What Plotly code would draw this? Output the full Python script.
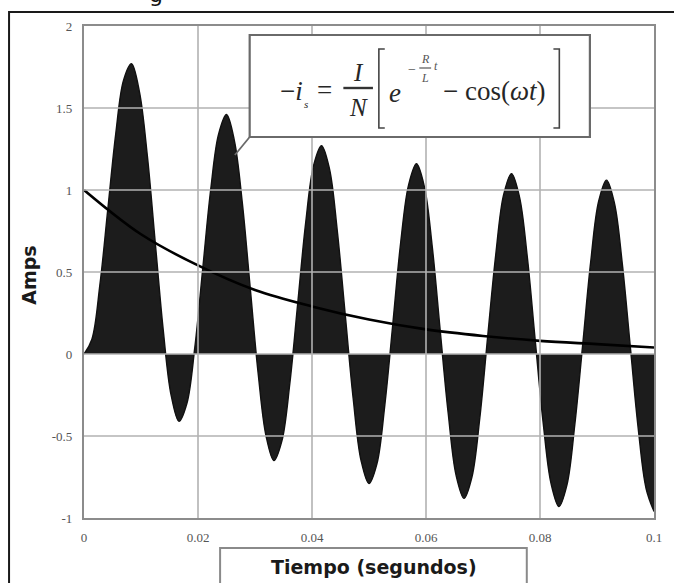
import plotly.graph_objects as go

# ---------------- data ----------------
time_s = [0.00000, 0.00139, 0.00278, 0.00417, 0.00556, 0.00694, 0.00833, 0.00972,
          0.01111, 0.01250, 0.01389, 0.01528, 0.01667, 0.01806, 0.01944, 0.02083,
          0.02222, 0.02361, 0.02500, 0.02639, 0.02778, 0.02917, 0.03056, 0.03194,
          0.03333, 0.03472, 0.03611, 0.03750, 0.03889, 0.04028, 0.04167, 0.04306,
          0.04444, 0.04583, 0.04722, 0.04861, 0.05000, 0.05139, 0.05278, 0.05417,
          0.05556, 0.05694, 0.05833, 0.05972, 0.06111, 0.06250, 0.06389, 0.06528,
          0.06667, 0.06806, 0.06944, 0.07083, 0.07222, 0.07361, 0.07500, 0.07639,
          0.07778, 0.07917, 0.08056, 0.08194, 0.08333, 0.08472, 0.08611, 0.08750,
          0.08889, 0.09028, 0.09167, 0.09306, 0.09444, 0.09583, 0.09722, 0.09861,
          0.10000]
current_amps = [0.00, 0.09, 0.42, 0.88, 1.34, 1.67, 1.77, 1.60, 1.21, 0.68, 0.15, -0.25,
                -0.41, -0.30, 0.04, 0.52, 1.00, 1.34, 1.46, 1.30, 0.92, 0.40, -0.12, -0.50,
                -0.65, -0.53, -0.18, 0.31, 0.80, 1.15, 1.27, 1.13, 0.75, 0.24, -0.27, -0.65,
                -0.79, -0.67, -0.31, 0.18, 0.68, 1.03, 1.16, 1.02, 0.65, 0.14, -0.36, -0.74,
                -0.88, -0.75, -0.39, 0.11, 0.60, 0.97, 1.10, 0.96, 0.59, 0.08, -0.42, -0.79,
                -0.93, -0.80, -0.43, 0.06, 0.56, 0.93, 1.06, 0.92, 0.55, 0.05, -0.45, -0.82,
                -0.96]

decay_time_s = [0.00, 0.01, 0.02, 0.03, 0.04, 0.05, 0.06, 0.07, 0.08, 0.09, 0.10]
decay_amps = [1.00, 0.73, 0.54, 0.39, 0.29, 0.21, 0.15, 0.11, 0.08, 0.06, 0.04]

x_tickvals = [0, 0.02, 0.04, 0.06, 0.08, 0.1]
x_ticktext = ["0", "0.02", "0.04", "0.06", "0.08", "0.1"]
y_tickvals = [-1, -0.5, 0, 0.5, 1, 1.5, 2]
y_ticktext = ["-1", "-0.5", "0", "0.5", "1", "1.5", "2"]

x_label = "Tiempo (segundos)"
y_label = "Amps"

# ---------------- layout helpers ----------------
W, H = 674, 583
L, R, T, B = 84, 662, 26, 518


def px(x):
    return (x - L) / (R - L)


def py(y):
    return (B - y) / (B - T)


fig = go.Figure()

fig.add_trace(go.Scatter(
    x=time_s, y=current_amps, mode="lines", line=dict(color="#111111", width=1.4, shape="spline"),
    fill="tozeroy", fillcolor="#1c1c1c", hoverinfo="skip", showlegend=False))

fig.add_trace(go.Scatter(
    x=decay_time_s, y=decay_amps, mode="lines", line=dict(color="#000000", width=2.6, shape="spline"),
    hoverinfo="skip", showlegend=False))

shapes = []
grid_col = "#b2b2b2"
for xv in x_tickvals[1:-1]:
    shapes.append(dict(type="line", xref="x", yref="paper", x0=xv, x1=xv, y0=0, y1=1,
                       line=dict(color=grid_col, width=1.6), layer="above"))
for yv in y_tickvals[1:-1]:
    shapes.append(dict(type="line", xref="paper", yref="y", x0=0, x1=1, y0=yv, y1=yv,
                       line=dict(color=grid_col, width=1.6), layer="above"))

# outer frame (top and left)
shapes.append(dict(type="path", xref="paper", yref="paper",
                   path=f"M {px(8)},{py(600)} L {px(8)},{py(12)} L {px(700)},{py(12)}",
                   line=dict(color="#1a1a1a", width=2), layer="above"))

# formula box and leader line
shapes.append(dict(type="rect", xref="paper", yref="paper", x0=px(252), x1=px(597), y0=py(137), y1=py(35),
                   line=dict(color="#6a6a6a", width=2.2), fillcolor="white", layer="above"))
shapes.append(dict(type="line", xref="paper", yref="paper", x0=px(252), x1=px(237), y0=py(137), y1=py(155),
                   line=dict(color="#6a6a6a", width=1.8), layer="above"))
# fraction bar I/N
shapes.append(dict(type="line", xref="paper", yref="paper", x0=px(347), x1=px(377), y0=py(88), y1=py(88),
                   line=dict(color="#333333", width=2.4), layer="above"))
# small fraction bar R/L
shapes.append(dict(type="line", xref="paper", yref="paper", x0=px(424), x1=px(436), y0=py(68), y1=py(68),
                   line=dict(color="#555555", width=1.2), layer="above"))
# brackets
shapes.append(dict(type="path", xref="paper", yref="paper",
                   path=f"M {px(389)},{py(49)} L {px(383)},{py(49)} L {px(383)},{py(128)} L {px(389)},{py(128)}",
                   line=dict(color="#444444", width=1.6), layer="above"))
shapes.append(dict(type="path", xref="paper", yref="paper",
                   path=f"M {px(560)},{py(49)} L {px(566)},{py(49)} L {px(566)},{py(128)} L {px(560)},{py(128)}",
                   line=dict(color="#444444", width=1.6), layer="above"))

# x-label box
shapes.append(dict(type="rect", xref="paper", yref="paper", x0=px(222), x1=px(533), y0=py(600), y1=py(548),
                   line=dict(color="#8a8a8a", width=2), fillcolor="white", layer="above"))

serif = "Liberation Serif"
fc = "#262626"
ann = []


def txt(text, x, y, size, xanchor="center", color=fc, family=serif):
    ann.append(dict(text=text, xref="paper", yref="paper", x=px(x), y=py(y), xanchor=xanchor,
                    yanchor="middle", showarrow=False, font=dict(family=family, size=size, color=color)))


txt("\u2212<i>i</i>", 294, 91, 27)
txt("<i>s</i>", 309, 104, 11)
txt("=", 328, 90, 27)
txt("<i>I</i>", 362, 72, 25)
txt("<i>N</i>", 362, 108, 25)
txt("<i>e</i>", 399, 93, 27)
txt("\u2212", 417, 69, 14, color="#555555")
txt("<i>R</i>", 430, 59, 12, color="#555555")
txt("<i>L</i>", 430, 78, 12, color="#555555")
txt("<i>t</i>", 441, 66, 12, color="#555555")
txt("\u2212 cos(<i>\u03c9t</i>)", 446, 91, 27, xanchor="left")

txt("<b>" + x_label + "</b>", 378, 567, 19, color="#1a1a1a", family="DejaVu Sans")
ann.append(dict(text="<b>" + y_label + "</b>", xref="paper", yref="paper", x=px(28), y=py(275),
                xanchor="center", yanchor="middle", textangle=-90, showarrow=False,
                font=dict(family="DejaVu Sans", size=19, color="#1a1a1a")))
# cut-off title fragment at the very top
txt("g", 157, -6, 22, color="#111111", family="DejaVu Sans")

fig.update_layout(
    width=W, height=H,
    margin=dict(l=L, r=W - R, t=T, b=H - B, pad=0),
    paper_bgcolor="white", plot_bgcolor="white",
    shapes=shapes, annotations=ann, showlegend=False,
    xaxis=dict(range=[0, 0.1], tickvals=x_tickvals, ticktext=x_ticktext, showgrid=False, zeroline=False,
               showline=True, mirror=True, linecolor="#8c8c8c", linewidth=2.2, ticks="",
               ticklabelstandoff=6, tickfont=dict(family=serif, size=13, color="#555555")),
    yaxis=dict(range=[-1, 2], tickvals=y_tickvals, ticktext=y_ticktext, showgrid=False, zeroline=False,
               showline=True, mirror=True, linecolor="#8c8c8c", linewidth=2.2, ticks="",
               ticklabelstandoff=7, tickfont=dict(family=serif, size=13, color="#555555")),
)

fig.write_html("out.html", config={"displayModeBar": False},
               post_script="document.body.style.margin='0';document.body.style.overflow='hidden';")
